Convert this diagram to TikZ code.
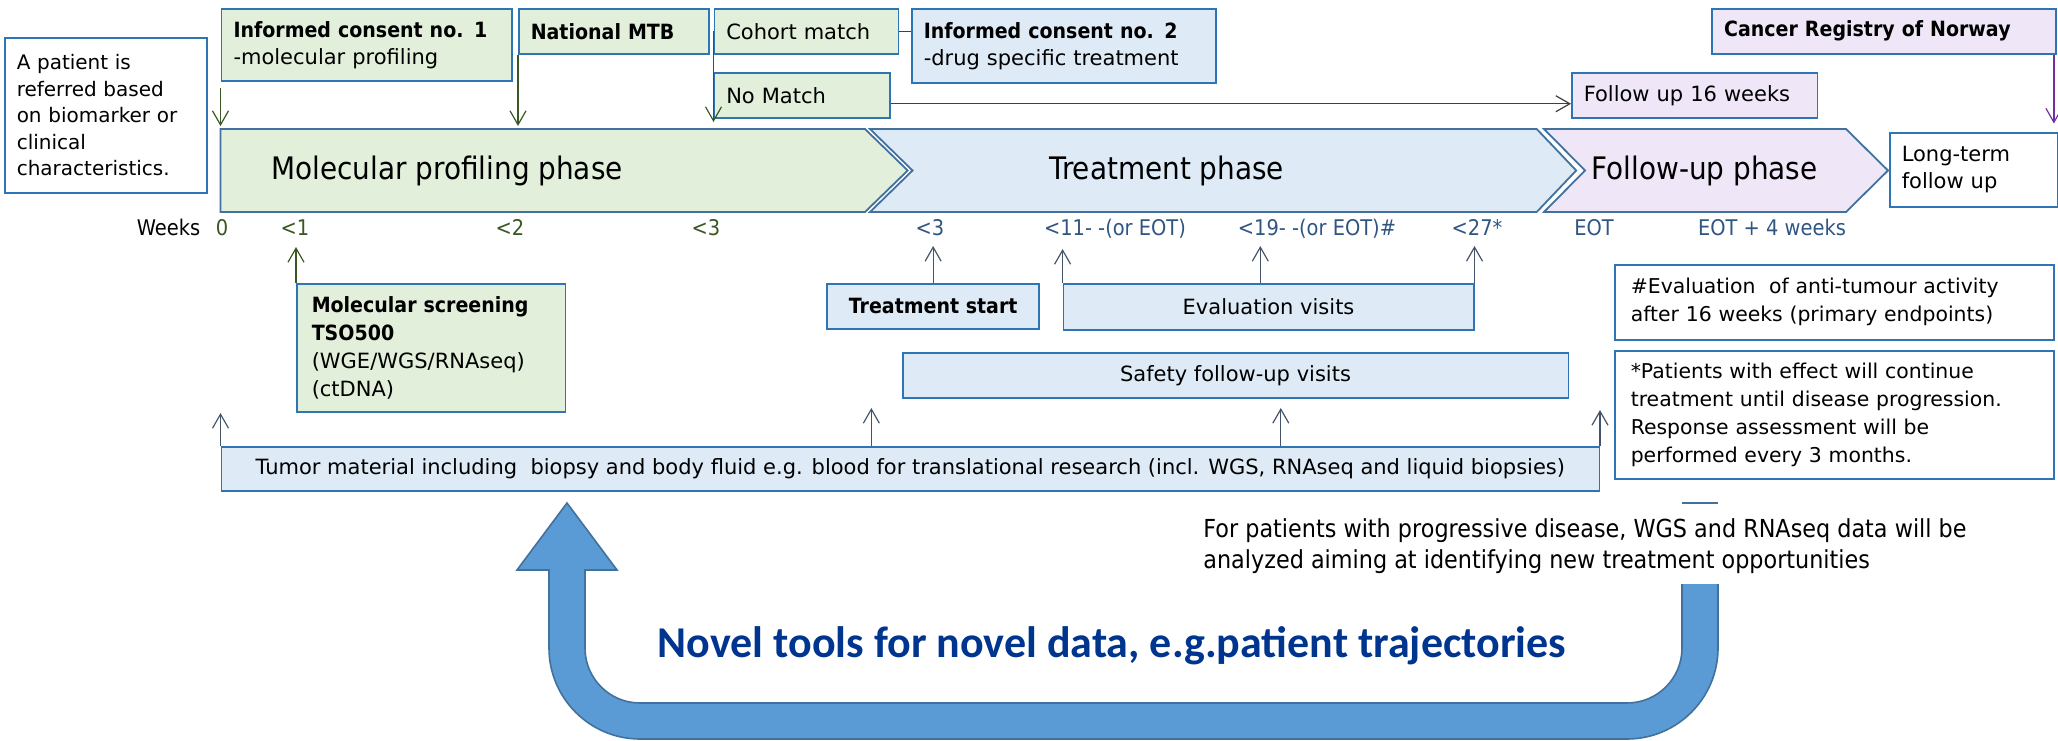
\documentclass[tikz,border=0pt]{standalone}
\usepackage{fontspec}
\setmainfont[BoldFeatures={FakeStretch=0.905}]{DejaVu Sans}
\newfontfamily\narrow[FakeStretch=0.9]{DejaVu Sans}
\newfontfamily\novelfont{Carlito}
\usetikzlibrary{arrows.meta,calc}
\definecolor{gfill}{HTML}{E2EFDA}
\definecolor{bfill}{HTML}{DEEBF7}
\definecolor{pfill}{HTML}{EFE7F7}
\definecolor{bdr}{HTML}{2E75B6}
\definecolor{phbdr}{HTML}{41719C}
\definecolor{garr}{HTML}{385723}
\definecolor{barr}{HTML}{44546A}
\definecolor{parr}{HTML}{7030A0}
\definecolor{gtxt}{HTML}{385723}
\definecolor{btxt}{HTML}{2F5583}
\definecolor{bigfill}{HTML}{5B9BD5}
\definecolor{noveltxt}{HTML}{00358F}
\begin{document}
\begin{tikzpicture}[x=0.5pt,y=-0.5pt,
  bx/.style={draw=bdr, line width=0.75pt, anchor=north west, inner xsep=6pt, inner ysep=0pt,
    align=left, font=\fontsize{10.5}{13.5}\selectfont},
  cbx/.style={bx, align=center},
  phase/.style={draw=phbdr, line width=0.9pt},
  phtxt/.style={font=\narrow\fontsize{15.5}{18}\selectfont, inner sep=0pt},
  wk/.style={anchor=base, inner sep=0pt, font=\narrow\fontsize{10.8}{13}\selectfont},
  tip/.style={-{Straight Barb[length=7pt,width=8pt]}, line width=0.6pt},
  garrow/.style={tip, draw=garr},
  barrow/.style={tip, draw=barr},
]
\useasboundingbox (0,0) rectangle (2058,740);

% ---------- top boxes ----------
\node[bx, fill=white, minimum width=101pt, minimum height=77.5pt, text width=89pt,
  font=\fontsize{10}{13.3}\selectfont] (patient) at (4,37)
  {A patient is\\referred based\\on biomarker or\\clinical\\characteristics.};
\node[bx, fill=gfill, minimum width=145.25pt, minimum height=36pt, text width=133pt] (ic1) at (220.5,8)
  {\textbf{Informed consent no. 1}\\-molecular profiling};
\node[bx, fill=gfill, minimum width=95pt, minimum height=22.5pt, text width=83pt] (mtb) at (518,8)
  {\textbf{National MTB}};
\node[bx, fill=gfill, minimum width=92pt, minimum height=22.5pt, text width=80pt] (cohort) at (713.5,8)
  {Cohort match};
\node[bx, fill=bfill, minimum width=152pt, minimum height=37pt, text width=140pt] (ic2) at (911,8)
  {\textbf{Informed consent no. 2}\\-drug specific treatment};
\node[bx, fill=gfill, minimum width=87.75pt, minimum height=22.5pt, text width=75.75pt] (nomatch) at (713.5,72)
  {No Match};
\node[bx, fill=pfill, minimum width=122.85pt, minimum height=22.5pt, text width=110.85pt] (fu16) at (1571,72)
  {Follow up 16 weeks};
\node[bx, fill=pfill, minimum width=172pt, minimum height=22.5pt, text width=160pt] (cr) at (1711.4,8)
  {\textbf{Cancer Registry of Norway}};

% ---------- phases ----------
\draw[phase, fill=gfill] (220.5,129) -- (865,129) -- (907.7,170.5) -- (865,212) -- (220.5,212) -- cycle;
\draw[phase, fill=bfill] (870,129) -- (1536.7,129) -- (1576.2,170.5) -- (1536.7,212) -- (870,212) -- (912.5,170.5) -- cycle;
\draw[phase, fill=pfill] (1544,129) -- (1846,129) -- (1888,170.5) -- (1846,212) -- (1544,212) -- (1585,170.5) -- cycle;
\node[phtxt] (ph1) at (447,170.5) {Molecular profiling phase};
\node[phtxt] (ph2) at (1166.6,170.5) {Treatment phase};
\node[phtxt] (ph3) at (1704.6,170.5) {Follow-up phase};

\node[bx, fill=white, minimum width=83.85pt, minimum height=37pt, text width=71.85pt] (lt) at (1889,132)
  {Long-term\\follow up};

% ---------- week labels ----------
\node[wk] (wk) at (168.5,235) {Weeks};
\node[wk, text=gtxt] (w0) at (222,235) {0};
\node[wk, text=gtxt] (w1) at (295,235) {<1};
\node[wk, text=gtxt] (w2) at (510,235) {<2};
\node[wk, text=gtxt] (w3) at (706,235) {<3};
\node[wk, text=btxt] (t3) at (930,235) {<3};
\node[wk, text=btxt] (t11) at (1115,235) {<11- -(or EOT)};
\node[wk, text=btxt] (t19) at (1317,235) {<19- -(or EOT)\#};
\node[wk, text=btxt] (t27) at (1477,235) {<27*};
\node[wk, text=btxt] (eot) at (1594,235) {EOT};
\node[wk, text=btxt] (eot4) at (1772,235) {EOT + 4 weeks};

% ---------- middle boxes ----------
\node[bx, fill=gfill, minimum width=134.35pt, minimum height=64pt, text width=119.35pt, inner xsep=7.5pt,
  font=\fontsize{10.5}{14}\selectfont] (ms) at (296,283)
  {\textbf{Molecular screening}\\\textbf{TSO500}\\(WGE/WGS/RNAseq)\\(ctDNA)};
\node[cbx, fill=bfill, minimum width=106pt, minimum height=22.5pt] (ts) at (826.4,283)
  {\textbf{Treatment start}};
\node[cbx, fill=bfill, minimum width=205.2pt, minimum height=23pt] (ev) at (1062.6,283)
  {Evaluation visits};
\node[cbx, fill=bfill, minimum width=332.75pt, minimum height=22.5pt] (sf) at (902,352)
  {Safety follow-up visits};
\node[cbx, fill=bfill, minimum width=689pt, minimum height=22pt] (tm) at (220.5,446)
  {Tumor material including~ biopsy and body fluid e.g. blood for translational research (incl. WGS, RNAseq and liquid biopsies)};
\node[bx, fill=white, minimum width=219.5pt, minimum height=37.5pt, text width=203.5pt, inner xsep=8pt,
  font=\fontsize{10.2}{14}\selectfont] (ne) at (1614,264)
  {\#Evaluation~ of anti-tumour activity\\after 16 weeks (primary endpoints)};
\node[bx, fill=white, minimum width=219.5pt, minimum height=64pt, text width=203.5pt, inner xsep=8pt,
  font=\fontsize{10.2}{14}\selectfont] (np) at (1614,350)
  {*Patients with effect will continue\\treatment until disease progression.\\Response assessment will be\\performed every 3 months.};

% ---------- connectors ----------
\coordinate (pa) at (220.5,88);
\coordinate (pa2) at (220.5,126);
\draw[garrow] (pa) -- (pa2);
\draw[garrow] (mtb.south west) -- (mtb.south west |- pa2);
\draw[garrow] (cohort.west) -- (cohort.west |- 0,122);
\draw[line width=0.6pt, draw=black!75] (cohort.east) -- (ic2.west |- cohort.east);
\draw[tip, draw=black!75] ($(nomatch.east)+(0,8.5)$) -- ($(fu16.west)+(0,8.5)$);
\draw[tip, draw=parr] ($(cr.south east)+(-3,0)$) -- ++(0,69);

\draw[garrow] (ms.north west) -- ++(0,-36);
\draw[barrow] (ts.north) -- ++(0,-37);
\draw[barrow] (ev.north west) -- ++(0,-34);
\draw[barrow] ($(ev.north west)!0.48!(ev.north east)$) -- ++(0,-37);
\draw[barrow] (ev.north east) -- ++(0,-37);
\draw[barrow] (tm.north west) -- ++(0,-33);
\draw[barrow] ($(tm.north west)!0.4718!(tm.north east)$) -- ++(0,-38);
\draw[barrow] ($(tm.north west)!0.7686!(tm.north east)$) -- ++(0,-38);
\draw[barrow] (tm.north east) -- ++(0,-36);

% ---------- big return arrow ----------
\fill[bigfill] (567,503) -- (617,570) -- (585,570) -- (585,648)
  .. controls (585,678.4) and (609.6,703) .. (640,703) -- (1627,703)
  .. controls (1657.4,703) and (1682,678.4) .. (1682,648) -- (1682,584) -- (1718,584) -- (1718,648)
  .. controls (1718,698.2) and (1677.2,739) .. (1627,739) -- (640,739)
  .. controls (589.8,739) and (549,698.2) .. (549,648) -- (549,570) -- (517,570) -- cycle;
\draw[phbdr, line width=0.8pt] (1682,584) -- (1682,648)
  .. controls (1682,678.4) and (1657.4,703) .. (1627,703) -- (640,703)
  .. controls (609.6,703) and (585,678.4) .. (585,648) -- (585,570) -- (617,570) -- (567,503)
  -- (517,570) -- (549,570) -- (549,648)
  .. controls (549,698.2) and (589.8,739) .. (640,739) -- (1627,739)
  .. controls (1677.2,739) and (1718,698.2) .. (1718,648) -- (1718,584);
\draw[phbdr, line width=0.8pt] (1682,503) -- (1718,503);

\node[anchor=north west, inner sep=0pt, align=left, font=\narrow\fontsize{12.4}{15.5}\selectfont] (pd) at (1203,518)
  {For patients with progressive disease, WGS and RNAseq data will be\\analyzed aiming at identifying new treatment opportunities};
\node[anchor=base, inner sep=0pt, text=noveltxt, font=\novelfont\bfseries\fontsize{22}{26}\selectfont] (novel) at (1112,657)
  {Novel tools for novel data, e.g.patient trajectories};
\end{tikzpicture}
\end{document}
